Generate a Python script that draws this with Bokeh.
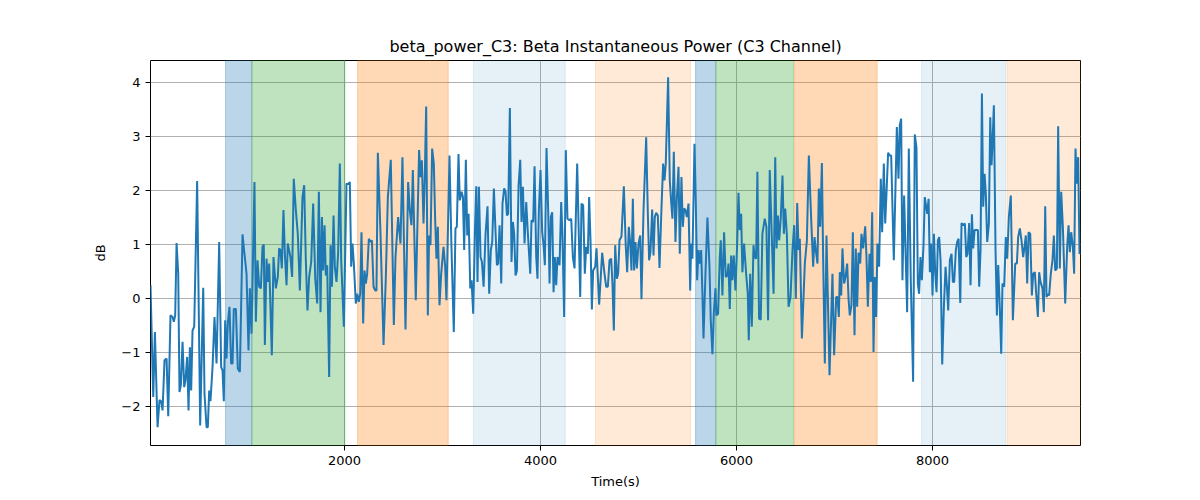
from bokeh.plotting import figure
from bokeh.models import BoxAnnotation, FixedTicker, Range1d
from bokeh.embed import file_html
from bokeh.resources import INLINE

# time (s) and beta power (dB)
time_s = [
    20, 48, 65, 92, 112, 129, 143, 163, 184, 201, 224, 245, 258, 272, 286, 303, 316, 330, 347, 364,
    377, 394, 408, 422, 435, 449, 466, 496, 527, 558, 571, 592, 605, 619, 632, 653, 673, 694, 721, 741,
    755, 768, 782, 796, 809, 826, 843, 857, 870, 891, 911, 932, 959, 979, 1000, 1020, 1034, 1051, 1081, 1095,
    1112, 1129, 1146, 1163, 1176, 1187, 1204, 1217, 1231, 1258, 1275, 1299, 1319, 1333, 1346, 1360, 1377, 1391, 1408, 1421,
    1448, 1465, 1482, 1503, 1523, 1544, 1571, 1588, 1605, 1622,
    1639, 1660, 1680, 1701, 1721, 1738, 1755, 1769, 1782, 1796, 1809, 1823, 1843, 1857, 1871, 1888, 1901, 1918, 1935, 1952,
    1966, 1993, 2020, 2037, 2054, 2068, 2081, 2095, 2115, 2129, 2146, 2160, 2173, 2190, 2204, 2217, 2231, 2248, 2265, 2279,
    2296, 2313, 2326, 2340, 2367, 2398, 2421, 2442, 2472, 2503, 2520, 2547, 2571, 2591, 2622, 2649, 2666, 2683, 2697, 2727,
    2748, 2761, 2775, 2789, 2806, 2819, 2833, 2850, 2863, 2877, 2894, 2911, 2925, 2938, 2952, 2969, 2986, 3010, 3027, 3040,
    3071, 3091, 3115, 3132, 3146, 3163, 3176,
    3194, 3208, 3221, 3238, 3252, 3266, 3283, 3296, 3313, 3330, 3344, 3357, 3371, 3388, 3402, 3419, 3439, 3459, 3476, 3493,
    3507, 3524, 3541, 3555, 3568, 3582, 3599, 3612, 3629, 3643, 3657, 3670, 3687, 3704, 3718, 3731, 3745, 3759, 3776, 3793,
    3806, 3820, 3837, 3854, 3871, 3895, 3908, 3925, 3939, 3956, 3969, 3983, 4000, 4017, 4031, 4044, 4061, 4078, 4092, 4105,
    4119, 4133, 4146, 4160, 4173, 4194, 4211, 4224, 4241, 4258, 4275, 4296, 4313, 4330, 4347, 4374, 4405, 4418, 4435, 4452,
    4466, 4483, 4496, 4510, 4524, 4537, 4558, 4571, 4598, 4629, 4653, 4670, 4687, 4704, 4721, 4734, 4748, 4762,
    4779, 4792, 4806, 4826, 4850, 4870, 4884, 4901, 4915, 4928, 4942, 4955, 4969, 4983, 5000, 5017, 5030, 5051, 5078, 5095,
    5108, 5122, 5139, 5153, 5166, 5180, 5197, 5214, 5234, 5251, 5265, 5278, 5302, 5319, 5333, 5346, 5360, 5377, 5391, 5408,
    5421, 5438, 5452, 5465, 5479, 5493, 5510, 5527, 5537, 5550, 5571, 5584, 5598, 5612, 5625, 5639, 5652, 5663, 5683, 5703,
    5724, 5737, 5754, 5768, 5785, 5795, 5812, 5829, 5839, 5856, 5873, 5890, 5907, 5918, 5931, 5945, 5958, 5972, 5989, 6006,
    6020, 6033, 6047, 6060, 6077, 6098, 6115, 6125, 6139, 6156, 6173, 6186, 6200, 6213, 6230, 6247, 6264, 6288, 6305, 6322,
    6339,
    6361, 6378, 6395, 6408, 6422, 6435, 6452, 6469, 6483, 6497, 6514, 6531, 6551, 6571, 6588, 6605, 6619, 6633, 6646, 6667,
    6697, 6718, 6738, 6752, 6765, 6782, 6796, 6809, 6826, 6840, 6854, 6871, 6884, 6901, 6918, 6949, 6979, 6996, 7017, 7030,
    7044, 7054, 7068, 7081, 7098, 7112, 7129, 7143, 7156, 7173, 7187, 7204, 7217, 7231, 7245, 7262, 7275, 7292, 7313, 7326,
    7340, 7357, 7370, 7384, 7398, 7411, 7425, 7438, 7455, 7472, 7486, 7503, 7517, 7530, 7547, 7564, 7578, 7605, 7636, 7653,
    7666, 7680, 7693, 7710, 7741, 7758, 7778, 7802, 7819, 7836, 7850, 7863, 7877, 7891, 7908, 7921,
    7946, 7960, 7973, 7987, 8000, 8014, 8028, 8041, 8055, 8068, 8082, 8099, 8116, 8133, 8147, 8160, 8177, 8194, 8208, 8221,
    8238, 8252, 8266, 8283, 8296, 8313, 8330, 8344, 8357, 8374, 8388, 8402, 8415, 8429, 8446, 8463, 8476, 8490, 8504, 8517,
    8531, 8544, 8558, 8575, 8589, 8602, 8612, 8626, 8643, 8657, 8670, 8687, 8701, 8714, 8731, 8748, 8762, 8779, 8799, 8820,
    8844, 8861, 8874, 8891, 8908, 8925, 8939, 8952, 8966, 8980, 8997, 9014, 9027, 9044, 9058, 9075, 9088, 9102, 9122, 9136,
    9150, 9163, 9177, 9190, 9207, 9224, 9238, 9252, 9269, 9282, 9299, 9313, 9330, 9354, 9374, 9388, 9401, 9415, 9432, 9445,
    9459, 9473, 9486, 9500, 9510,
]
power_db = [
    0.25, -1.82, -0.62, -2.38, -1.88, -1.9, -2.07, -1.14, -1.11, -2.18, -0.31, -0.34, -0.43, -0.31, 1.03, 0.46, -1.73, -1.6, -0.8, -1.64,
    -1.51, -1.08, -2.07, -0.9, -1.7, -0.59, -0.52, 2.18, -2.35, 0.2, -1.76, -2.38, -2.38, -1.7, -1.9, -1.27, -0.34, -1.2, 1.05, -1.27,
    -1.33, -1.9, -0.4, -1.11, -0.46, -0.15, -1.2, -1.2, -0.19, -0.19, -1.3, -1.36, 1.19, 0.83, 0.46, -0.96, 0.19, -0.65, 2.16, -0.43,
    0.71, 0.22, 0.19, 0.96, 1.0, -0.86, 0.74, 0.31, 0.65, -1.05, 0.77, 0.19, 0.4, 0.93, 0.9, 0.56, 1.64, 0.83, 0.25, 1.02,
    0.77, 0.4, 2.22, 1.64, 1.2, 0.15, 1.88, 2.1, 0.71, -0.22,
    0.4, 0.68, 1.76, 0.37, -0.09, 1.98, -0.25, 1.51, 0.52, 1.36, 0.43, 0.62, -1.45, 0.99, 0.22, 1.54, 0.59, 0.31, 0.86, 2.5,
    0.71, -0.52, 2.13, 2.12, 2.16, 0.59, 1.02, 0.65, -0.09, 0.09, -0.06, 0.09, 1.23, -0.46, 0.52, 0.28, 0.46, 1.11, 1.05, 1.08,
    0.22, 0.15, 0.15, 2.7, 1.2, -0.86, 0.37, 1.88, 2.57, -0.49, 0.77, 1.51, 1.02, 2.62, -0.57, 2.16, 1.64, 1.36, 2.38, -0.03,
    1.7, 2.75, 2.25, 2.56, 1.39, 2.25, 3.56, -0.31, 1.17, 0.99, 2.78, 2.5, 1.45, 0.74, 1.33, -0.12, 0.46, 0.96, 0.59, -0.03,
    2.65, 0.96, -0.62, 1.3, 1.33, 2.68, 1.82,
    1.98, 1.88, 0.9, 2.57, 1.17, 1.57, 0.19, 0.34, -0.28, 1.2, 2.08, 0.31, 2.07, 0.77, 0.68, 0.22, 1.2, 1.71, 0.09, 0.9,
    1.05, 2.04, 1.23, 0.62, 0.65, 1.36, 0.28, 1.76, 2.04, 1.98, 1.54, 1.57, 3.53, 0.68, 1.42, 1.2, 0.43, 0.52, 2.1, 2.57,
    1.42, 2.07, 1.02, 1.79, 1.2, 0.46, 1.45, 1.42, 2.45, 0.77, 0.37, 1.64, 2.38, 1.23, 0.99, 0.62, 2.79, 1.64, 0.28, 1.51,
    1.6, 0.12, 0.77, 0.25, 0.77, 0.62, 1.79, 1.14, -0.34, 2.75, 1.48, 1.45, 1.48, 0.77, 0.56, 2.5, 0.03, 1.76, 1.73, 0.46,
    0.96, 0.83, 1.88, 1.08, -0.2, 0.52, 0.59, 0.93, -0.11, 0.85, 0.46, 0.22, 0.22, 0.71, 0.74, 0.28, -0.59, 0.99,
    0.37, 0.46, 1.08, 1.15, 2.08, 0.96, 0.49, 1.33, 1.03, 0.52, 1.85, 0.52, 1.05, 0.56, 1.02, 1.17, -0.01, 1.64, 2.99, 1.57,
    0.71, 0.86, 1.65, 0.8, 1.51, 1.59, 1.54, 0.57, 1.67, 2.5, 2.19, 2.5, 4.1, 2.19, 1.79, 1.48, 2.72, 1.05, 1.85, 2.44,
    0.83, 2.25, 1.33, 1.67, 1.64, 1.51, 1.76, 0.15, 1.02, 0.74, 2.87, 1.82, 0.34, 0.9, 0.65, 0.9, 0.09, -0.74, 0.46, 1.5,
    0.59, -0.4, -1.03, -0.28, 0.19, -0.31, -0.28, 0.77, 1.08, 0.06, 1.23, 0.4, 0.43, 0.65, -0.19, 0.8, 0.34, 0.8, 0.15, 0.99,
    1.96, 1.27, 1.57, 0.49, 1.02, 0.46, 0.09, -0.77, 0.46, -0.52, 0.99, 0.77, 0.74, 2.35, -0.37, -0.39, 1.2, 1.48, 1.33, -0.4,
    2.38,
    1.08, 0.09, 2.62, 0.93, 1.54, 1.08, 1.51, 2.28, 1.2, 1.67, 1.17, -0.15, 0.03, 0.9, 1.36, 0.0, 1.77, 0.9, 1.11, -0.74,
    0.65, 1.08, 2.65, 1.94, 1.33, 0.59, 1.14, 0.9, 0.65, 2.04, 1.33, 2.51, 0.74, -1.2, 1.17, -1.42, 0.46, -1.05, 0.03, 0.03,
    -0.34, 0.49, 0.06, 0.93, 0.28, 0.4, 0.65, 0.0, -0.31, -0.12, 1.23, -0.68, 0.93, -0.15, 0.85, 0.65, 1.2, 0.93, 1.34, 0.77,
    -0.15, 0.83, 0.31, 1.6, -0.99, 0.4, -0.34, 1.02, 0.59, 2.22, 1.23, 2.5, 1.39, 1.94, 2.7, 2.65, 2.65, 0.71, 3.18, 2.22,
    3.21, 3.33, 0.34, 1.91, -0.25, 2.78, 0.34, -1.54, 3.04, 2.8, 0.28, 0.09, 0.77, 0.34, 0.99, 1.88,
    1.57, 1.85, 0.49, 1.02, 0.06, 1.2, 0.46, 0.12, 1.08, 1.14, 0.71, -1.22, -0.15, 0.59, 0.22, -0.22, 0.71, 0.83, 0.31, 0.31,
    0.9, 1.05, 1.11, -0.08, 1.4, 1.36, 1.39, 0.77, 0.83, 1.4, 0.25, 1.56, 0.93, 1.27, 1.27, 1.27, 0.22, 0.9, 3.8, 1.7,
    2.31, 1.94, 1.05, 1.39, 3.36, 2.47, 2.87, 3.58, 0.9, -0.31, 0.62, -0.19, -1.02, 0.28, 0.22, 1.14, 0.74, 1.51, 1.91, -0.4,
    0.65, 0.65, 1.14, 1.3, 1.08, 0.77, 0.96, 1.17, 0.28, 1.23, 1.2, 0.06, 0.46, 0.49, 0.09, -0.34, 0.49, 0.31, 0.19, -0.25,
    1.71, 0.03, 0.09, 0.06, 0.46, 0.71, 1.17, 0.52, 0.56, 3.19, 0.56, 1.98, 1.33, -0.09, 0.96, 1.36, 0.86, 1.23, 0.96, 0.46,
    2.78, 2.13, 2.62, 0.83, 0.85,
]

# shaded segments: start, end, colour, alpha
seg_start = [786, 1054, 2133, 3316, 4561, 5582, 5789, 6592, 7888, 8762]
seg_end = [1054, 2003, 3058, 4252, 5531, 5789, 6582, 7435, 8748, 9510]
seg_color = ["#1f77b4", "#2ca02c", "#ff7f0e", "#1f77b4", "#ff7f0e",
             "#1f77b4", "#2ca02c", "#ff7f0e", "#1f77b4", "#ff7f0e"]
seg_alpha = [0.3, 0.3, 0.3, 0.11, 0.16, 0.3, 0.3, 0.3, 0.11, 0.16]

x_ticks = [2000, 4000, 6000, 8000]
y_ticks = [-2, -1, 0, 1, 2, 3, 4]

FONT = "DejaVu Sans"

p = figure(width=1192, height=492, output_backend="svg", toolbar_location=None,
           title="beta_power_C3: Beta Instantaneous Power (C3 Channel)",
           x_range=Range1d(20, 9510), y_range=Range1d(-2.72, 4.41),
           min_border_left=150, min_border_right=112, min_border_top=60, min_border_bottom=47)

p.title.align = "center"
p.title.text_font = FONT
p.title.text_font_size = "16px"
p.title.text_font_style = "normal"
p.title.text_color = "black"

for s, e, c, a in zip(seg_start, seg_end, seg_color, seg_alpha):
    p.add_layout(BoxAnnotation(left=s, right=e, fill_color=c, fill_alpha=a,
                               line_color=c, line_alpha=a, line_width=1, level="underlay"))

p.line(time_s, power_db, line_color="#1f77b4", line_width=2)

p.xaxis.ticker = FixedTicker(ticks=x_ticks)
p.yaxis.ticker = FixedTicker(ticks=y_ticks)
p.yaxis.major_label_overrides = {t: str(t).replace("-", "\u2212") for t in y_ticks}
p.xaxis.axis_label = "Time(s)"
p.yaxis.axis_label = "dB"

for ax in [p.xaxis, p.yaxis]:
    ax.axis_label_text_font = FONT
    ax.axis_label_text_font_size = "13px"
    ax.axis_label_text_font_style = "normal"
    ax.axis_label_text_color = "black"
    ax.major_label_text_font = FONT
    ax.major_label_text_font_size = "13px"
    ax.major_label_text_color = "black"
    ax.major_tick_in = 0
    ax.major_tick_out = 5
    ax.minor_tick_out = 0
    ax.minor_tick_in = 0
    ax.axis_line_color = None
    ax.major_tick_line_color = "black"
p.xaxis.axis_label_standoff = 6
p.yaxis.axis_label_standoff = 10

p.grid.grid_line_color = "#b0b0b0"
p.grid.grid_line_width = 1
p.outline_line_color = "black"
p.outline_line_width = 1
p.outline_line_alpha = 1
p.background_fill_color = "white"
p.border_fill_color = "white"

open("out.html", "w").write(file_html(p, INLINE))
